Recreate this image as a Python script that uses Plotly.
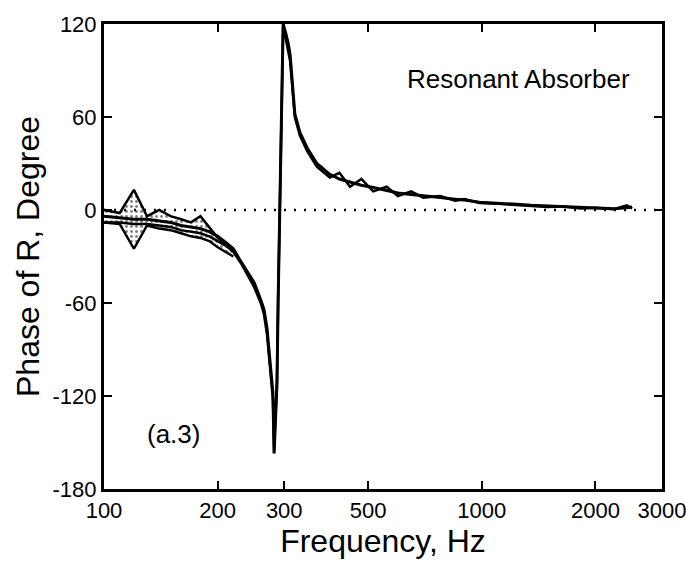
import math
import plotly.graph_objects as go

# ---- data ----
band_freq = [100, 110, 120, 130, 140, 150, 160, 170, 180, 190, 200, 210, 220]
band_upper = [0, -2, 13, -4, 0, -4, -6, -8, -4, -11, -18, -22, -26]
band_lower = [-8, -9, -25, -10, -12, -13, -15, -17, -18, -20, -24, -27, -30]

freq = [100, 110, 120, 130, 140, 150, 160, 170, 180, 190, 200, 210, 220, 230, 240,
        250, 260, 265, 270, 275, 280, 282, 285, 287, 289, 292, 295, 298, 302, 307,
        311, 315, 320, 330, 345, 366, 396, 420, 448, 480, 516, 560, 600, 650, 700,
        776, 850, 900, 986, 1100, 1209, 1350, 1489, 1650, 1827, 2000, 2240, 2420, 2500]
phase_a = [-4, -5, -6, -6, -7, -8, -10, -11, -12, -14, -17, -21, -25, -33, -40,
           -47, -58, -64, -76, -96, -118, -157, -130, -112, -60, 4, 67, 120, 115, 108,
           100, 85, 62, 50, 40, 30, 23, 20, 18, 16, 14.5, 12.5, 11, 10, 9,
           8, 7, 6.5, 5, 4.5, 3.8, 3, 2.5, 2, 1.5, 1.2, 0.8, 1.5, 2]
phase_b = [-8, -8, -9, -9, -10, -11, -13, -14, -15, -17, -20, -23, -27, -34, -42,
           -50, -60, -67, -80, -100, -122, -155, -128, -110, -58, 6, 70, 118, 112, 104,
           96, 80, 60, 48, 38, 28, 21, 24, 15, 20, 12, 15, 9, 12, 8,
           9, 6, 7, 4.5, 4, 3.5, 3, 2, 2.3, 1, 1.5, 0.5, 3, 1]

x_ticks = [100, 200, 300, 500, 1000, 2000, 3000]
y_ticks = [-180, -120, -60, 0, 60, 120]

FONT = "Liberation Sans, Arial, sans-serif"

fig = go.Figure()

fig.add_trace(go.Scatter(x=band_freq, y=band_lower, mode="lines",
                         line=dict(color="black", width=2.5), showlegend=False))
fig.add_trace(go.Scatter(x=band_freq, y=band_upper, mode="lines", fill="tonexty",
                         fillcolor="white",
                         fillpattern=dict(shape=".", fgcolor="black", bgcolor="white",
                                          size=5, solidity=0.25),
                         line=dict(color="black", width=2.5), showlegend=False))
fig.add_trace(go.Scatter(x=freq, y=phase_b, mode="lines",
                         line=dict(color="black", width=2.5), showlegend=False))
fig.add_trace(go.Scatter(x=freq, y=phase_a, mode="lines",
                         line=dict(color="black", width=3), showlegend=False))

fig.add_shape(type="line", xref="paper", yref="y", x0=0, x1=1, y0=0, y1=0,
              line=dict(color="black", width=2.5, dash="2px,8px"))

fig.add_annotation(x=0.742, y=0.881, xref="paper", yref="paper", text="Resonant Absorber",
                   xanchor="center", yanchor="middle",
                   showarrow=False, font=dict(family=FONT, size=26, color="black"))
fig.add_annotation(x=0.125, y=0.119, xref="paper", yref="paper", text="(a.3)",
                   xanchor="center", yanchor="middle",
                   showarrow=False, font=dict(family=FONT, size=26, color="black"))

axis_common = dict(showline=True, linecolor="black", linewidth=3, mirror="allticks",
                   ticks="inside", ticklen=8, tickwidth=2, tickcolor="black",
                   showgrid=False, zeroline=False,
                   tickfont=dict(family=FONT, size=22, color="black"))

fig.update_xaxes(type="log", range=[2, math.log10(3000)], tickvals=x_ticks,
                 ticktext=[str(v) for v in x_ticks], ticklabeloverflow="allow",
                 automargin=False,
                 title=dict(text="Frequency, Hz", font=dict(family=FONT, size=32, color="black"),
                            standoff=2),
                 **axis_common)
fig.update_yaxes(range=[-180, 120], tickvals=y_ticks,
                 ticktext=[str(v) for v in y_ticks],
                 title=dict(text="Phase of R, Degree", font=dict(family=FONT, size=32, color="black"),
                            standoff=4),
                 **axis_common)

fig.update_layout(width=686, height=562, margin=dict(l=104, r=24, t=17, b=73),
                  plot_bgcolor="white", paper_bgcolor="white", showlegend=False)

fig.write_html("out.html")
